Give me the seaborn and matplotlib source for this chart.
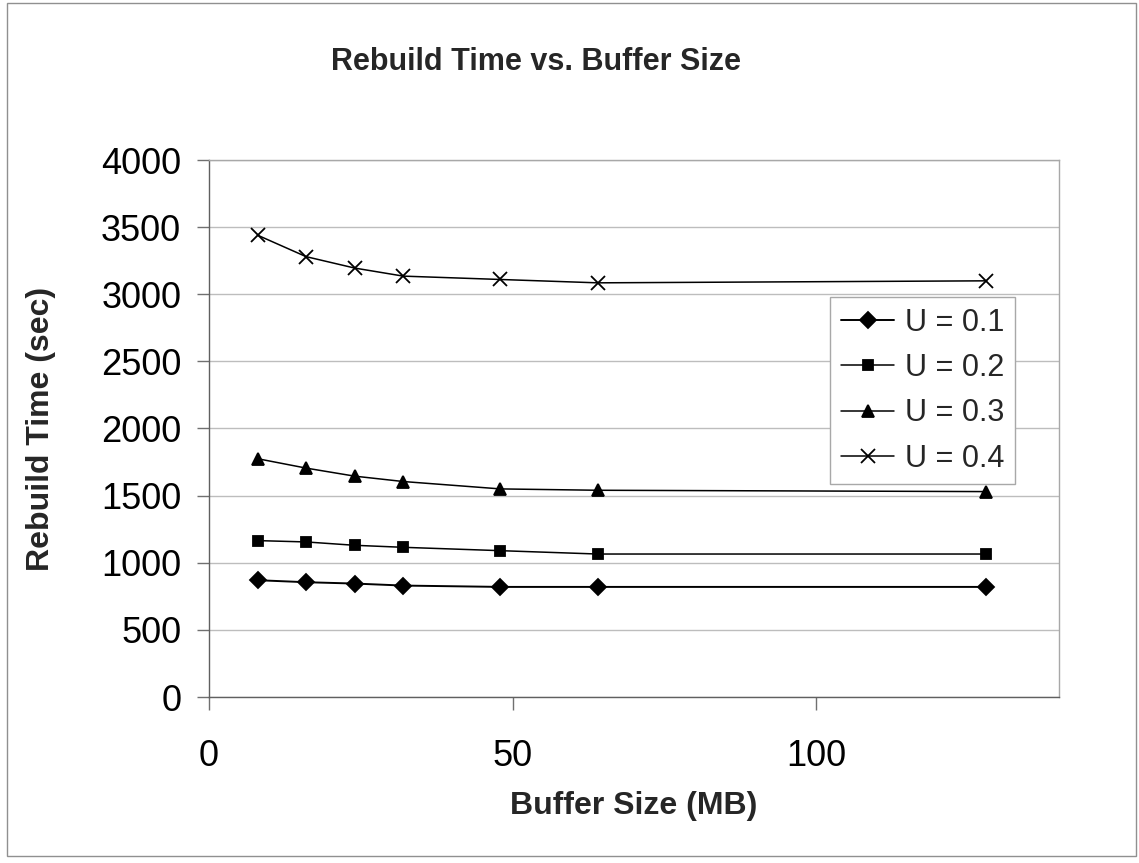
import matplotlib
matplotlib.use("Agg")
import matplotlib.pyplot as plt
import seaborn as sns
import pandas as pd
from matplotlib.patches import Rectangle

buffer_mb = [8, 16, 24, 32, 48, 64, 128]
u01 = [870, 855, 845, 830, 820, 820, 820]
u02 = [1165, 1155, 1130, 1115, 1090, 1065, 1065]
u03 = [1775, 1705, 1645, 1605, 1550, 1540, 1530]
u04 = [3440, 3280, 3195, 3135, 3110, 3085, 3100]
series_names = ["U = 0.1", "U = 0.2", "U = 0.3", "U = 0.4"]
x_ticks = [0, 50, 100]
y_ticks = [0, 500, 1000, 1500, 2000, 2500, 3000, 3500, 4000]

sns.set_theme(style="white")
plt.rcParams["font.family"] = ["Liberation Sans", "DejaVu Sans"]

W, H = 1139, 863
fig = plt.figure(figsize=(W / 100, H / 100), dpi=100)
fig.patch.set_facecolor("white")
ax = fig.add_axes([209 / W, (H - 697) / H, 850 / W, 537 / H])

marker_list = ["D", "s", "^", "x"]
size_list = [8, 7.5, 9, 10]
width_list = [1.4, 1.1, 1.1, 1.1]
for name, vals, mk, ms, lw in zip(series_names, [u01, u02, u03, u04],
                                  marker_list, size_list, width_list):
    df = pd.DataFrame({"Buffer": buffer_mb, "Time": vals})
    sns.lineplot(data=df, x="Buffer", y="Time", ax=ax, color="black",
                 linewidth=lw, marker=mk, markersize=ms,
                 markeredgecolor="black", markerfacecolor="black",
                 markeredgewidth=1.3, label=name)

ax.set_xlim(0, 140)
ax.set_ylim(0, 4000)
ax.set_xticks(x_ticks)
ax.set_yticks(y_ticks)
ax.grid(axis="y", color="#bdbdbd", linewidth=1.0)
ax.set_axisbelow(True)
for s in ["top", "right"]:
    ax.spines[s].set_color("#a8a8a8")
    ax.spines[s].set_linewidth(1.0)
for s in ["left", "bottom"]:
    ax.spines[s].set_color("#606060")
    ax.spines[s].set_linewidth(1.0)
ax.tick_params(axis="both", which="major", labelsize=26, colors="#707070",
               labelcolor="black", length=9, width=1.0, direction="out")
ax.tick_params(axis="y", pad=11)
ax.tick_params(axis="x", pad=21)
ax.tick_params(bottom=True, left=True)

ax.set_xlabel("Buffer Size (MB)", fontsize=23, fontweight="bold")
ax.set_ylabel("Rebuild Time (sec)", fontsize=23, fontweight="bold")
ax.xaxis.set_label_coords(0.5, (697 - 791) / 537)
ax.yaxis.set_label_coords((56 - 209) / 850, 0.5)
fig.text(536 / W, 1 - 62 / H, "Rebuild Time vs. Buffer Size",
         fontsize=22, fontweight="bold", ha="center", va="center")

handles, labels = ax.get_legend_handles_labels()
leg = ax.legend(handles, labels, loc="upper right",
                bbox_to_anchor=((1015 - 209) / 850, (697 - 297) / 537),
                fontsize=22, frameon=True,
                fancybox=False, edgecolor="#a8a8a8", framealpha=1,
                handlelength=1.75, handletextpad=0.35, borderpad=0.35,
                labelspacing=0.5, borderaxespad=0)
leg.get_frame().set_linewidth(1.0)

fig.patches.append(Rectangle((7 / W, 7 / H), 1 - 10 / W, 1 - 10 / H,
                             transform=fig.transFigure, fill=False,
                             edgecolor="#909090", linewidth=1.0))

fig.savefig("out.png", dpi=100)
